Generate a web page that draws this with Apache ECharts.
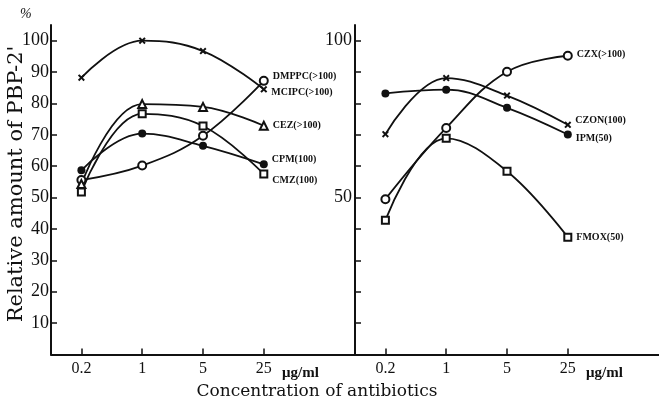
<!DOCTYPE html>
<html>
<head>
<meta charset="utf-8">
<script src="https://cdn.jsdelivr.net/npm/echarts@6/dist/echarts.min.js"></script>
<style>
html,body{margin:0;padding:0;background:#fff;}
#main{width:659px;height:404px;}
</style>
</head>
<body>
<div id="main"></div>
<script>
// ---- data ----
const concentrations = ['0.2', '1', '5', '25'];
const leftNames = ['DMPPC(>100)', 'MCIPC(>100)', 'CEZ(>100)', 'CPM(100)', 'CMZ(100)'];
const dmppc = [55.6, 60.2, 69.7, 87.2];
const mcipc = [88.2, 100, 96.7, 84.5];
const cez = [54.3, 79.8, 78.9, 72.9];
const cpm = [58.7, 70.4, 66.5, 60.6];
const cmz = [51.8, 76.7, 72.8, 57.5];
const rightNames = ['CZX(>100)', 'CZON(100)', 'IPM(50)', 'FMOX(50)'];
const czx = [49.5, 72.2, 90.1, 95.2];
const czon = [70.2, 88.1, 82.5, 73.2];
const ipm = [83.2, 84.4, 78.6, 70.1];
const fmox = [42.8, 68.9, 58.4, 37.4];
const leftYTicks = [10, 20, 30, 40, 50, 60, 70, 80, 90, 100];
const rightYTicks = [10, 20, 30, 40, 50, 60, 70, 80, 90, 100];
const rightYLabels = [50, 100];

// ---- styles ----
const INK = '#111';
const crossPath = 'path://M0,2L2,0L5,3L8,0L10,2L7,5L10,8L8,10L5,7L2,10L0,8L3,5Z';
const SERIF = 'Liberation Serif';

function makeSeries(name, values, gridIdx, symbol, symbolSize, dy) {
  const data = values.map((v, i) => {
    const item = { value: [i, v] };
    if (i === values.length - 1) {
      item.label = {
        show: true,
        position: 'right',
        distance: 4,
        offset: [0, dy],
        formatter: name,
        color: INK,
        fontFamily: SERIF,
        fontWeight: 'bold',
        fontSize: 10
      };
    }
    return item;
  });
  return {
    type: 'line',
    name: name,
    xAxisIndex: gridIdx,
    yAxisIndex: gridIdx,
    data: data,
    smooth: 0.4,
    symbol: symbol,
    symbolSize: symbolSize,
    showAllSymbol: true,
    lineStyle: { color: INK, width: 1.8 },
    itemStyle: { color: INK, borderWidth: 1.6 },
    label: { show: false },
    emphasis: { disabled: true },
    z: 3
  };
}

const xAxisBase = (gridIndex) => ({
  gridIndex: gridIndex,
  type: 'value',
  min: -0.5,
  max: 4.5,
  axisLine: { show: true, onZero: false, lineStyle: { color: INK, width: 2 } },
  axisTick: { show: true, inside: true, length: 6, customValues: [0, 1, 2, 3], lineStyle: { color: INK, width: 1.5 } },
  axisLabel: {
    show: true,
    customValues: [0, 1, 2, 3],
    formatter: (v) => concentrations[Math.round(v)],
    color: INK,
    fontFamily: SERIF,
    fontSize: 16,
    margin: 6
  },
  splitLine: { show: false }
});

const option = {
  backgroundColor: '#fff',
  animation: false,
  grid: [
    { left: 51, top: 25, width: 304, height: 329.5 },
    { left: 355, top: 25, width: 305, height: 329.5 }
  ],
  xAxis: [xAxisBase(0), xAxisBase(1)],
  yAxis: [
    {
      gridIndex: 0, type: 'value', min: 0, max: 105,
      axisLine: { show: true, onZero: false, lineStyle: { color: INK, width: 2 } },
      axisTick: { show: true, inside: true, length: 6, customValues: leftYTicks, lineStyle: { color: INK, width: 1.5 } },
      axisLabel: { show: true, customValues: leftYTicks, color: INK, fontFamily: SERIF, fontSize: 18, margin: 2 },
      splitLine: { show: false }
    },
    {
      gridIndex: 1, type: 'value', min: 0, max: 105,
      axisLine: { show: true, onZero: false, lineStyle: { color: INK, width: 2 } },
      axisTick: { show: true, inside: true, length: 6, customValues: rightYTicks, lineStyle: { color: INK, width: 1.5 } },
      axisLabel: { show: true, customValues: rightYLabels, color: INK, fontFamily: SERIF, fontSize: 18, margin: 3 },
      splitLine: { show: false }
    }
  ],
  series: [
    makeSeries(leftNames[0], dmppc, 0, 'emptyCircle', 8, -4),
    makeSeries(leftNames[1], mcipc, 0, crossPath, 7, 3),
    makeSeries(leftNames[2], cez, 0, 'emptyTriangle', 8, 0),
    makeSeries(leftNames[3], cpm, 0, 'circle', 8, -5),
    makeSeries(leftNames[4], cmz, 0, 'emptyRect', 7, 6),
    makeSeries(rightNames[0], czx, 1, 'emptyCircle', 8, -1),
    makeSeries(rightNames[1], czon, 1, crossPath, 7, -4),
    makeSeries(rightNames[2], ipm, 1, 'circle', 8, 4),
    makeSeries(rightNames[3], fmox, 1, 'emptyRect', 7, 0)
  ],
  graphic: [
    { type: 'text', left: 20, top: 7, style: { text: '%', fill: INK, font: 'italic 14px "Liberation Serif"' } },
    { type: 'text', x: 17, y: 184, rotation: Math.PI / 2,
      style: { text: "Relative amount of PBP-2'", fill: INK, font: '21px "DejaVu Serif"', align: 'center', verticalAlign: 'middle' } },
    { type: 'text', x: 317, y: 392,
      style: { text: 'Concentration of antibiotics', fill: INK, font: '17px "DejaVu Serif"', align: 'center', verticalAlign: 'middle' } },
    { type: 'text', x: 282, y: 373,
      style: { text: 'μg/ml', fill: INK, font: 'bold 15px "Liberation Serif"', align: 'left', verticalAlign: 'middle' } },
    { type: 'text', x: 586, y: 373,
      style: { text: 'μg/ml', fill: INK, font: 'bold 15px "Liberation Serif"', align: 'left', verticalAlign: 'middle' } }
  ]
};

const chart = echarts.init(document.getElementById('main'), null, { renderer: 'canvas' });
chart.setOption(option);
</script>
</body>
</html>
